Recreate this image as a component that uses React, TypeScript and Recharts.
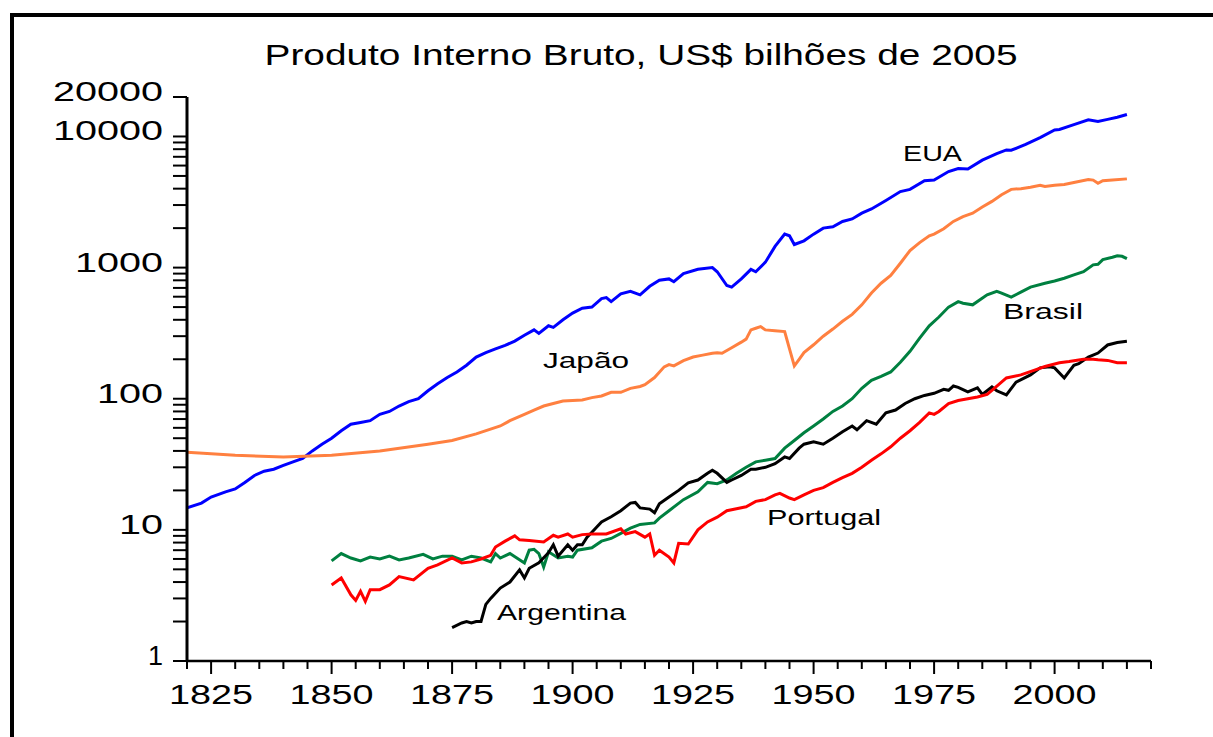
import { LineChart, Line, XAxis, YAxis } from 'recharts';

// PIB, US$ bilhões de 2005 — [ano, valor]
const eua = [
  [1820, 14.7], [1823, 16], [1825, 17.8], [1828, 19.5], [1830, 20.5], [1832, 23], [1834, 26],
  [1836, 28], [1838, 29], [1840, 31], [1842, 33], [1844, 35], [1846, 40], [1848, 45],
  [1850, 50], [1852, 57], [1854, 64], [1856, 66], [1858, 68], [1860, 76], [1862, 80],
  [1864, 88], [1866, 95], [1868, 100], [1870, 115], [1872, 130], [1874, 145], [1876, 160],
  [1878, 180], [1880, 208], [1882, 225], [1884, 240], [1886, 255], [1888, 275], [1890, 305],
  [1892, 335], [1893, 315], [1895, 360], [1896, 350], [1898, 400], [1900, 450], [1902, 490],
  [1904, 500], [1906, 580], [1907, 590], [1908, 550], [1910, 630], [1912, 660], [1914, 620],
  [1916, 720], [1918, 800], [1920, 820], [1921, 780], [1923, 900], [1926, 970], [1929, 1000],
  [1930, 930], [1932, 730], [1933, 710], [1935, 820], [1937, 970], [1938, 930], [1940, 1100],
  [1942, 1450], [1944, 1800], [1945, 1750], [1946, 1500], [1948, 1600], [1950, 1800],
  [1952, 2000], [1954, 2050], [1956, 2250], [1958, 2350], [1960, 2600], [1962, 2800],
  [1965, 3250], [1968, 3800], [1970, 3950], [1973, 4600], [1975, 4650], [1978, 5400],
  [1980, 5700], [1982, 5650], [1985, 6600], [1988, 7400], [1990, 7900], [1991, 7850],
  [1994, 8700], [1997, 9800], [2000, 11200], [2001, 11300], [2004, 12300], [2007, 13400],
  [2009, 13000], [2011, 13500], [2013, 14000], [2015, 14700],
];

const japao = [
  [1820, 39], [1830, 37], [1840, 36], [1850, 37], [1860, 40], [1870, 45], [1875, 48],
  [1880, 54], [1885, 62], [1887, 68], [1890, 76], [1892, 82], [1894, 88], [1896, 92],
  [1898, 96], [1900, 97], [1902, 98], [1904, 102], [1906, 105], [1908, 112], [1910, 112],
  [1912, 120], [1914, 124], [1915, 128], [1917, 145], [1919, 175], [1920, 182], [1921, 178],
  [1923, 195], [1925, 208], [1927, 215], [1929, 222], [1930, 224], [1931, 222], [1933, 245],
  [1935, 270], [1936, 285], [1937, 335], [1938, 345], [1939, 355], [1940, 335], [1942, 330],
  [1944, 325], [1945, 240], [1946, 178], [1947, 200], [1948, 225], [1950, 258], [1952, 300],
  [1954, 340], [1956, 390], [1958, 440], [1960, 520], [1962, 640], [1964, 760], [1966, 870],
  [1968, 1080], [1970, 1350], [1972, 1550], [1974, 1750], [1975, 1800], [1977, 1980],
  [1979, 2250], [1981, 2450], [1983, 2600], [1985, 2900], [1987, 3200], [1989, 3600],
  [1991, 3950], [1993, 4000], [1995, 4100], [1997, 4250], [1998, 4150], [2000, 4250],
  [2002, 4300], [2004, 4450], [2007, 4700], [2008, 4650], [2009, 4400], [2010, 4600],
  [2012, 4650], [2015, 4750],
];

const brasil = [
  [1850, 5.8], [1852, 6.6], [1854, 6.1], [1856, 5.8], [1858, 6.2], [1860, 6.0], [1862, 6.3],
  [1864, 5.9], [1866, 6.1], [1869, 6.5], [1871, 6.0], [1873, 6.3], [1875, 6.3], [1877, 5.9],
  [1879, 6.3], [1881, 6.1], [1883, 5.7], [1884, 6.6], [1885, 6.1], [1887, 6.6], [1890, 5.6],
  [1891, 7.0], [1892, 7.1], [1893, 6.6], [1894, 5.2], [1895, 6.8], [1897, 6.1], [1899, 6.3],
  [1900, 6.2], [1901, 7.0], [1904, 7.3], [1906, 8.2], [1908, 8.6], [1910, 9.4], [1912, 10.3],
  [1914, 11.0], [1917, 11.3], [1918, 12.3], [1920, 14], [1923, 17], [1926, 19.5], [1928, 23],
  [1930, 22.5], [1932, 24], [1934, 27], [1936, 30], [1938, 33], [1940, 34], [1942, 35],
  [1944, 42], [1946, 48], [1948, 55], [1950, 62], [1952, 70], [1954, 80], [1956, 88],
  [1958, 100], [1960, 120], [1962, 138], [1964, 148], [1966, 160], [1968, 190], [1970, 230],
  [1972, 290], [1974, 360], [1976, 420], [1978, 500], [1980, 550], [1981, 535], [1983, 520],
  [1986, 620], [1988, 660], [1989, 640], [1991, 595], [1993, 650], [1995, 710], [1998, 760],
  [2000, 790], [2002, 830], [2004, 880], [2006, 930], [2008, 1050], [2009, 1060],
  [2010, 1150], [2012, 1200], [2013, 1230], [2014, 1220], [2015, 1170],
];

const argentina = [
  [1875, 1.8], [1877, 1.95], [1878, 2.0], [1879, 1.95], [1880, 2.0], [1881, 2.0],
  [1882, 2.7], [1883, 3.0], [1885, 3.6], [1887, 4.0], [1889, 4.95], [1890, 4.3],
  [1891, 5.1], [1893, 5.6], [1895, 6.7], [1896, 7.7], [1897, 6.3], [1899, 7.7], [1900, 7.0],
  [1901, 7.7], [1902, 7.7], [1903, 8.8], [1904, 9.6], [1906, 11.5], [1908, 12.6],
  [1910, 14], [1912, 16], [1913, 16.2], [1914, 14.7], [1916, 14.4], [1917, 13.5],
  [1918, 15.8], [1920, 17.8], [1922, 20], [1924, 22.8], [1926, 24], [1928, 27],
  [1929, 28.5], [1930, 27], [1932, 23], [1933, 24], [1935, 26], [1937, 29], [1938, 29],
  [1940, 30], [1942, 32], [1944, 36], [1945, 35], [1947, 42], [1948, 45], [1950, 47],
  [1952, 45], [1954, 50], [1956, 56], [1958, 62], [1959, 58], [1961, 68], [1963, 64],
  [1965, 78], [1967, 82], [1969, 92], [1971, 100], [1973, 106], [1975, 110], [1977, 118],
  [1978, 116], [1979, 125], [1980, 122], [1982, 113], [1984, 121], [1985, 108], [1987, 123],
  [1988, 115], [1990, 107], [1992, 134], [1995, 152], [1997, 172], [1999, 175], [2000, 172],
  [2002, 144], [2004, 180], [2005, 185], [2007, 208], [2009, 223], [2011, 257],
  [2013, 268], [2015, 274],
];

const portugal = [
  [1850, 3.8], [1852, 4.3], [1854, 3.2], [1855, 2.9], [1856, 3.4], [1857, 2.85], [1858, 3.5],
  [1860, 3.5], [1862, 3.8], [1864, 4.4], [1867, 4.15], [1870, 5.1], [1872, 5.4], [1875, 6.1],
  [1877, 5.6], [1879, 5.7], [1881, 6.0], [1883, 6.4], [1884, 7.4], [1886, 8.2], [1888, 9.0],
  [1889, 8.4], [1891, 8.3], [1894, 8.1], [1896, 9.1], [1897, 8.8], [1899, 9.3], [1900, 8.8],
  [1902, 9.2], [1904, 9.3], [1907, 9.3], [1910, 10.2], [1911, 9.3], [1913, 9.7],
  [1915, 8.8], [1916, 9.3], [1917, 6.4], [1918, 7.0], [1920, 6.2], [1921, 5.6], [1922, 7.9],
  [1924, 7.8], [1926, 10], [1928, 11.5], [1930, 12.5], [1932, 14], [1934, 14.5],
  [1936, 15], [1938, 16.5], [1940, 17], [1942, 18.5], [1943, 19], [1945, 17.5], [1946, 17],
  [1948, 18.5], [1950, 20], [1952, 21], [1954, 23], [1956, 25], [1958, 27], [1960, 30],
  [1962, 34], [1964, 38], [1966, 43], [1968, 50], [1970, 57], [1972, 66], [1974, 78],
  [1975, 76], [1976, 80], [1978, 92], [1980, 97], [1982, 100], [1984, 103], [1986, 108],
  [1987, 116], [1990, 144], [1993, 152], [1996, 166], [1998, 176], [2001, 188],
  [2003, 192], [2006, 200], [2008, 200], [2009, 198], [2011, 196], [2013, 188], [2015, 188],
];

const anos = [];
for (let a = 1820; a <= 2020; a += 5) anos.push(a);
const anosRotulo = [1825, 1850, 1875, 1900, 1925, 1950, 1975, 2000];

const yRotulos = [1, 10, 100, 1000, 10000, 20000];
const yTicks = [];
for (const d of [1, 10, 100, 1000]) for (let k = 1; k <= 9; k++) yTicks.push(d * k);
yTicks.push(10000, 20000);

const series = [
  { nome: 'EUA', dados: eua, cor: '#0000ff' },
  { nome: 'Japão', dados: japao, cor: '#ff8040' },
  { nome: 'Brasil', dados: brasil, cor: '#008040' },
  { nome: 'Argentina', dados: argentina, cor: '#000000' },
  { nome: 'Portugal', dados: portugal, cor: '#ff0000' },
];

const FONT = '"Liberation Sans", Arial, sans-serif';

function XTick({ x, y, payload }: any) {
  const major = anosRotulo.includes(payload.value);
  return (
    <g>
      <line x1={x} x2={x} y1={y} y2={y + (major ? 13 : 8)} stroke="#000" strokeWidth={2} />
      {major && (
        <text x={x} y={y + 43} textAnchor="middle" fontSize={28} fontFamily={FONT}
          textLength={84} lengthAdjust="spacingAndGlyphs" fill="#000">
          {payload.value}
        </text>
      )}
    </g>
  );
}

function YTick({ x, y, payload }: any) {
  const major = yRotulos.includes(payload.value);
  const txt = String(payload.value);
  return (
    <g>
      <line x1={x - 14} x2={x} y1={y} y2={y} stroke="#000" strokeWidth={2} />
      {major && (
        <text x={x - 24} y={y + 4} textAnchor="end" fontSize={28} fontFamily={FONT}
          textLength={txt.length === 1 ? 15 : txt.length * 22} lengthAdjust="spacingAndGlyphs" fill="#000">
          {txt}
        </text>
      )}
    </g>
  );
}

const rotulos = [
  { t: 'EUA', x: 903, y: 161, w: 59 },
  { t: 'Japão', x: 543, y: 368, w: 86 },
  { t: 'Brasil', x: 1003, y: 319, w: 80 },
  { t: 'Portugal', x: 767, y: 525, w: 114 },
  { t: 'Argentina', x: 497, y: 620, w: 129 },
];

export default function App() {
  return (
    <div style={{ position: 'absolute', left: 0, top: 0, width: 1213, height: 737, background: '#fff' }}>
      <LineChart width={1213} height={737} margin={{ top: 97, right: 62, bottom: 36, left: 87 }}>
        <XAxis xAxisId="b" type="number" dataKey="ano" domain={[1820, 2020]} ticks={anos}
          interval={0} allowDataOverflow tick={<XTick />} tickLine={false} tickSize={0} tickMargin={0}
          height={40} axisLine={{ stroke: '#000', strokeWidth: 2.5 }} />
        <XAxis xAxisId="t" orientation="top" type="number" domain={[1820, 2020]} height={0}
          tick={false} tickLine={false} axisLine={{ stroke: '#000', strokeWidth: 2 }} />
        <YAxis yAxisId="l" scale="log" type="number" domain={[1, 20000]} ticks={yTicks}
          interval={0} allowDataOverflow tick={<YTick />} tickLine={false} tickSize={0} tickMargin={0}
          width={100} axisLine={{ stroke: '#000', strokeWidth: 3 }} />
        <YAxis yAxisId="r" orientation="right" scale="log" type="number" domain={[1, 20000]} width={0}
          tick={false} tickLine={false} axisLine={{ stroke: '#000', strokeWidth: 2.5 }} />
        {series.map((s) => (
          <Line key={s.nome} xAxisId="b" yAxisId="l" type="linear"
            data={s.dados.map(([ano, v]) => ({ ano, v }))} dataKey="v" stroke={s.cor}
            strokeWidth={3} dot={false} isAnimationActive={false} />
        ))}
      </LineChart>
      <svg width={1213} height={737} style={{ position: 'absolute', left: 0, top: 0, pointerEvents: 'none' }}>
        <line x1={10} x2={1213} y1={15} y2={15} stroke="#000" strokeWidth={4} />
        <line x1={12} x2={12} y1={13} y2={737} stroke="#000" strokeWidth={4} />
        <text x={641} y={65} textAnchor="middle" fontSize={30} fontFamily={FONT}
          textLength={753} lengthAdjust="spacingAndGlyphs" fill="#000">
          Produto Interno Bruto, US$ bilhões de 2005
        </text>
        {rotulos.map((r) => (
          <text key={r.t} x={r.x} y={r.y} fontSize={22} fontFamily={FONT}
            textLength={r.w} lengthAdjust="spacingAndGlyphs" fill="#000">
            {r.t}
          </text>
        ))}
      </svg>
    </div>
  );
}
